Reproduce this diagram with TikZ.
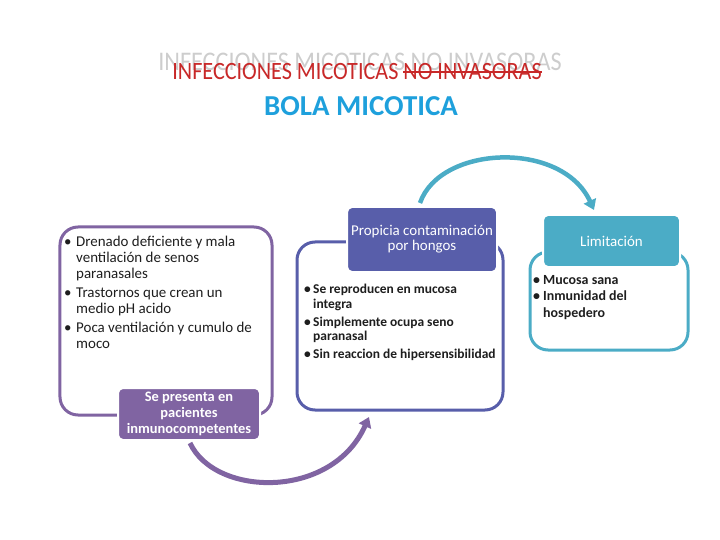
\documentclass[tikz,border=0pt]{standalone}
\usepackage{fontspec}
\setmainfont{Carlito}
\usetikzlibrary{arrows.meta}
\definecolor{titlered}{RGB}{200,40,40}
\definecolor{ghost}{RGB}{205,205,205}
\definecolor{titleblue}{RGB}{30,160,220}
\definecolor{purp}{RGB}{128,100,162}
\definecolor{indig}{RGB}{88,94,170}
\definecolor{teal}{RGB}{75,172,198}
\definecolor{txt}{RGB}{30,30,30}
\newcommand\strikeit[1]{\setbox0\hbox{#1}\rlap{\rule[0.3em]{\wd0}{1.3bp}}\box0}
\tikzset{
  outlinebox/.style={draw=#1, line width=3bp, fill=white, rounded corners=18bp, inner sep=0pt},
  headbox/.style={fill=#1, draw=white, line width=2bp, rounded corners=5bp, text=white, align=center, inner sep=0pt},
  listtext/.style={anchor=north west, align=left, inner sep=0pt, text=txt},
  curvearrow/.style={draw=#1, line width=5bp, -{Triangle[length=10bp,width=13bp]}},
}
\begin{document}
\begin{tikzpicture}[x=1bp,y=-1bp]
\useasboundingbox (0,0) rectangle (720,540);
% titles
\node[text=ghost, font=\fontsize{27}{30}\selectfont] (ghosttitle) at (360,62) {\scalebox{0.9}[1]{INFECCIONES MICOTICAS NO INVASORAS}};
\node[text=titlered, font=\fontsize{25}{30}\selectfont] (title) at (357,72) {\scalebox{0.89}[1]{INFECCIONES MICOTICAS \strikeit{NO INVASORAS}}};
\node[text=titleblue, font=\bfseries\fontsize{29}{32}\selectfont] (subtitle) at (361,106) {BOLA MICOTICA};
% outline boxes
\node[outlinebox=purp, minimum width=212bp, minimum height=188bp] (lbox) at (166,321) {};
\node[outlinebox=indig, minimum width=206bp, minimum height=168bp] (mbox) at (400,326) {};
\node[outlinebox=teal, minimum width=158bp, minimum height=98bp] (rbox) at (609,301) {};
% header boxes
\node[headbox=purp, minimum width=142bp, minimum height=52bp, font=\bfseries\fontsize{14.5}{16}\selectfont] (lhead) at (189,414) {Se presenta en\\pacientes\\inmunocompetentes};
\node[headbox=indig, minimum width=150bp, minimum height=65bp, font=\fontsize{15}{15}\selectfont] (mhead) at (422,239.5) {Propicia contaminación\\por hongos};
\node[headbox=teal, minimum width=137bp, minimum height=52bp, font=\fontsize{15}{15}\selectfont] (rhead) at (611.5,241) {Limitación};
% lists
\node[listtext, font=\fontsize{15}{16}\selectfont] (ltext) at (64,236) {%
\makebox[12bp][l]{\textbullet}Drenado deficiente y mala\\
\hspace*{12bp}ventilación de senos\\
\hspace*{12bp}paranasales\\[3bp]
\makebox[12bp][l]{\textbullet}Trastornos que crean un\\
\hspace*{12bp}medio pH acido\\[3bp]
\makebox[12bp][l]{\textbullet}Poca ventilación y cumulo de\\
\hspace*{12bp}moco};
\node[listtext, font=\bfseries\fontsize{13.5}{15}\selectfont] (mtext) at (304,283.5) {%
\makebox[9bp][l]{\textbullet}Se reproducen en mucosa\\
\hspace*{9bp}integra\\[3bp]
\makebox[9bp][l]{\textbullet}Simplemente ocupa seno\\
\hspace*{9bp}paranasal\\[3bp]
\makebox[9bp][l]{\textbullet}Sin reaccion de hipersensibilidad};
\node[listtext, font=\bfseries\fontsize{14}{16.5}\selectfont] (rtext) at (533,275) {%
\makebox[10bp][l]{\textbullet}Mucosa sana\\
\makebox[10bp][l]{\textbullet}Inmunidad del\\
\hspace*{10bp}hospedero};
% arrows
\coordinate (a1s) at (190,443);
\coordinate (a1e) at (369,417);
\coordinate (a2s) at (420,203);
\coordinate (a2e) at (594,210);
\draw[curvearrow=purp] (a1s) .. controls (215,497) and (332,500) .. (a1e);
\draw[curvearrow=teal, line width=4.5bp] (a2s) .. controls (440,145) and (562,140) .. (a2e);
\end{tikzpicture}
\end{document}
